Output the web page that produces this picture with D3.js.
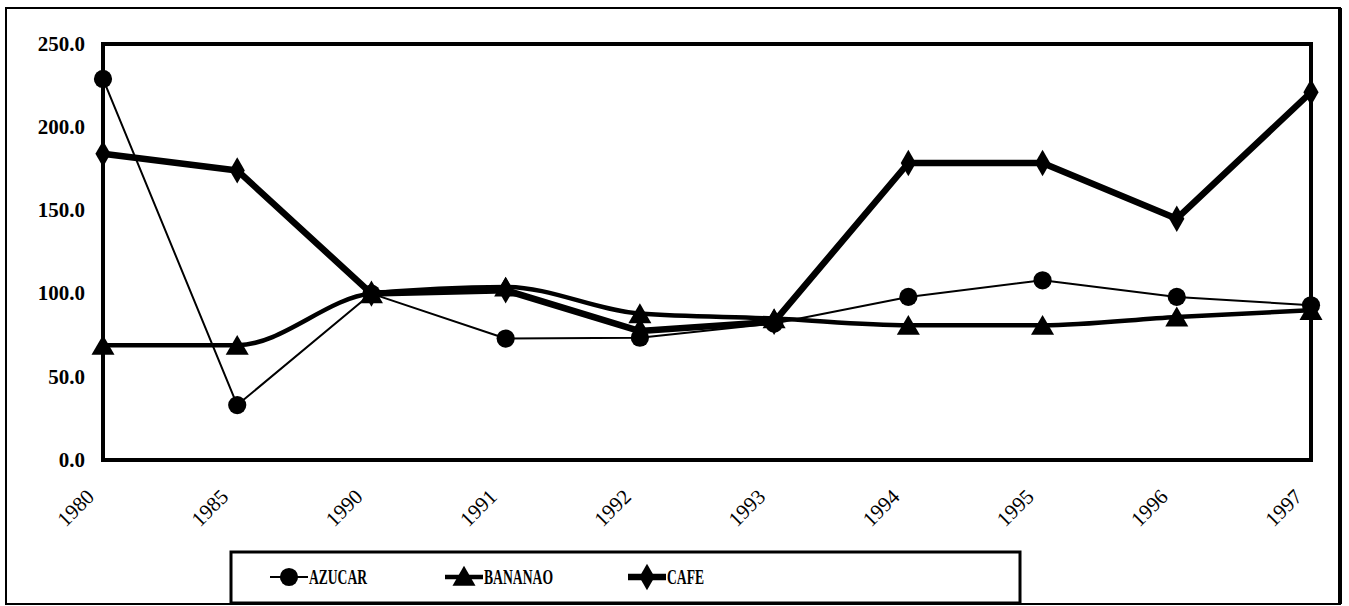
<!DOCTYPE html>
<html lang="es">
<head>
<meta charset="UTF-8">
<title>azucar_bananao_cafe</title>
<script src="https://cdn.jsdelivr.net/npm/d3@7/dist/d3.min.js"></script>
<style>
  body { margin: 0; background: #fff; }
</style>
</head>
<body>
<svg width="1349" height="606" id="mainsvg"></svg>
<script>
const years = ["1980", "1985", "1990", "1991", "1992", "1993", "1994", "1995", "1996", "1997"];
const azucar = [229, 33, 100, 73, 73.5, 82, 98, 108, 98, 93];
const bananao = [69, 69, 100, 104, 88, 85, 81, 81, 86, 90];
const cafe = [184, 174, 100, 102, 77.5, 83, 178.5, 178.5, 145, 221];
const yTicks = [0, 50, 100, 150, 200, 250];
const seriesNames = ["AZUCAR", "BANANAO", "CAFE"];

const serif = '"Liberation Serif", "DejaVu Serif", serif';
const svg = d3.select('#mainsvg');
const margin = { top: 44, left: 103 };
const innerWidth = 1311 - margin.left;
const innerHeight = 460 - margin.top;

// outer frame
svg.append('rect').attr('x', 6).attr('y', 8).attr('width', 1334).attr('height', 596)
  .attr('fill', 'none').attr('stroke', '#000').attr('stroke-width', 2);
svg.append('line').attr('x1', 1340).attr('x2', 1340).attr('y1', 8).attr('y2', 604)
  .attr('stroke', '#000').attr('stroke-width', 4);

const g = svg.append('g').attr('transform', `translate(${margin.left}, ${margin.top})`);

const xScale = d3.scalePoint().domain(years).range([0, innerWidth]);
const yScale = d3.scaleLinear().domain([0, 250]).range([innerHeight, 0]);

// plot frame
g.append('rect').attr('width', innerWidth).attr('height', innerHeight)
  .attr('fill', 'none').attr('stroke', '#000').attr('stroke-width', 4);

// axes
const yAxis = d3.axisLeft(yScale).tickValues(yTicks).tickFormat(d3.format('.1f')).tickSize(0).tickPadding(18);
g.append('g').attr('id', 'yaxis').call(yAxis)
  .call(a => a.select('.domain').remove())
  .selectAll('text')
  .style('font-family', serif).style('font-weight', 'bold').style('font-size', '21px')
  .attr('fill', '#000').attr('dy', '0.3em');

const xAxis = d3.axisBottom(xScale).tickSize(0);
const xa = g.append('g').attr('id', 'xaxis').attr('transform', `translate(0, ${innerHeight})`).call(xAxis);
xa.select('.domain').remove();
xa.selectAll('text')
  .style('font-family', serif).style('font-size', '21px').attr('fill', '#000')
  .attr('text-anchor', 'end').attr('dy', 0).attr('y', 0)
  .attr('transform', 'translate(-8, 38) rotate(-45)');

// series
const data = [azucar, bananao, cafe];
const widths = [2, 4.5, 6.5];
const curves = [d3.curveLinear, d3.curveMonotoneX, d3.curveLinear];
data.forEach((vals, i) => {
  const line = d3.line().x((d, j) => xScale(years[j])).y(d => yScale(d)).curve(curves[i]);
  g.append('path').datum(vals).attr('d', line).attr('fill', 'none')
    .attr('stroke', '#000').attr('stroke-width', widths[i]).attr('stroke-linejoin', 'round');
});

const sym = [
  d3.symbol().type(d3.symbolCircle).size(260),
  d3.symbol().type(d3.symbolTriangle).size(230),
  d3.symbol().type(d3.symbolDiamond).size(200)
];
data.forEach((vals, i) => {
  g.selectAll(`.m${i}`).data(vals).join('path').attr('class', `m${i}`)
    .attr('d', sym[i])
    .attr('transform', (d, j) => `translate(${xScale(years[j])}, ${yScale(d) + (i === 1 ? 3 : 0)})`)
    .attr('fill', '#000');
});

// legend
const lg = svg.append('g');
lg.append('rect').attr('x', 231).attr('y', 552).attr('width', 789).attr('height', 51)
  .attr('fill', '#fff').attr('stroke', '#000').attr('stroke-width', 3);
const legX = [270, 445, 628];
const legLen = [58, 69, 37];
seriesNames.forEach((name, i) => {
  const x0 = legX[i];
  lg.append('line').attr('x1', x0).attr('x2', x0 + 38).attr('y1', 577).attr('y2', 577)
    .attr('stroke', '#000').attr('stroke-width', widths[i]);
  lg.append('path').attr('d', sym[i]).attr('transform', `translate(${x0 + 19}, ${577 + (i === 1 ? 2 : 0)})`).attr('fill', '#000');
  lg.append('text').attr('x', x0 + 39).attr('y', 584)
    .style('font-family', serif).style('font-weight', 'bold').style('font-size', '22px')
    .attr('textLength', legLen[i]).attr('lengthAdjust', 'spacingAndGlyphs')
    .text(name);
});
</script>
</body>
</html>
